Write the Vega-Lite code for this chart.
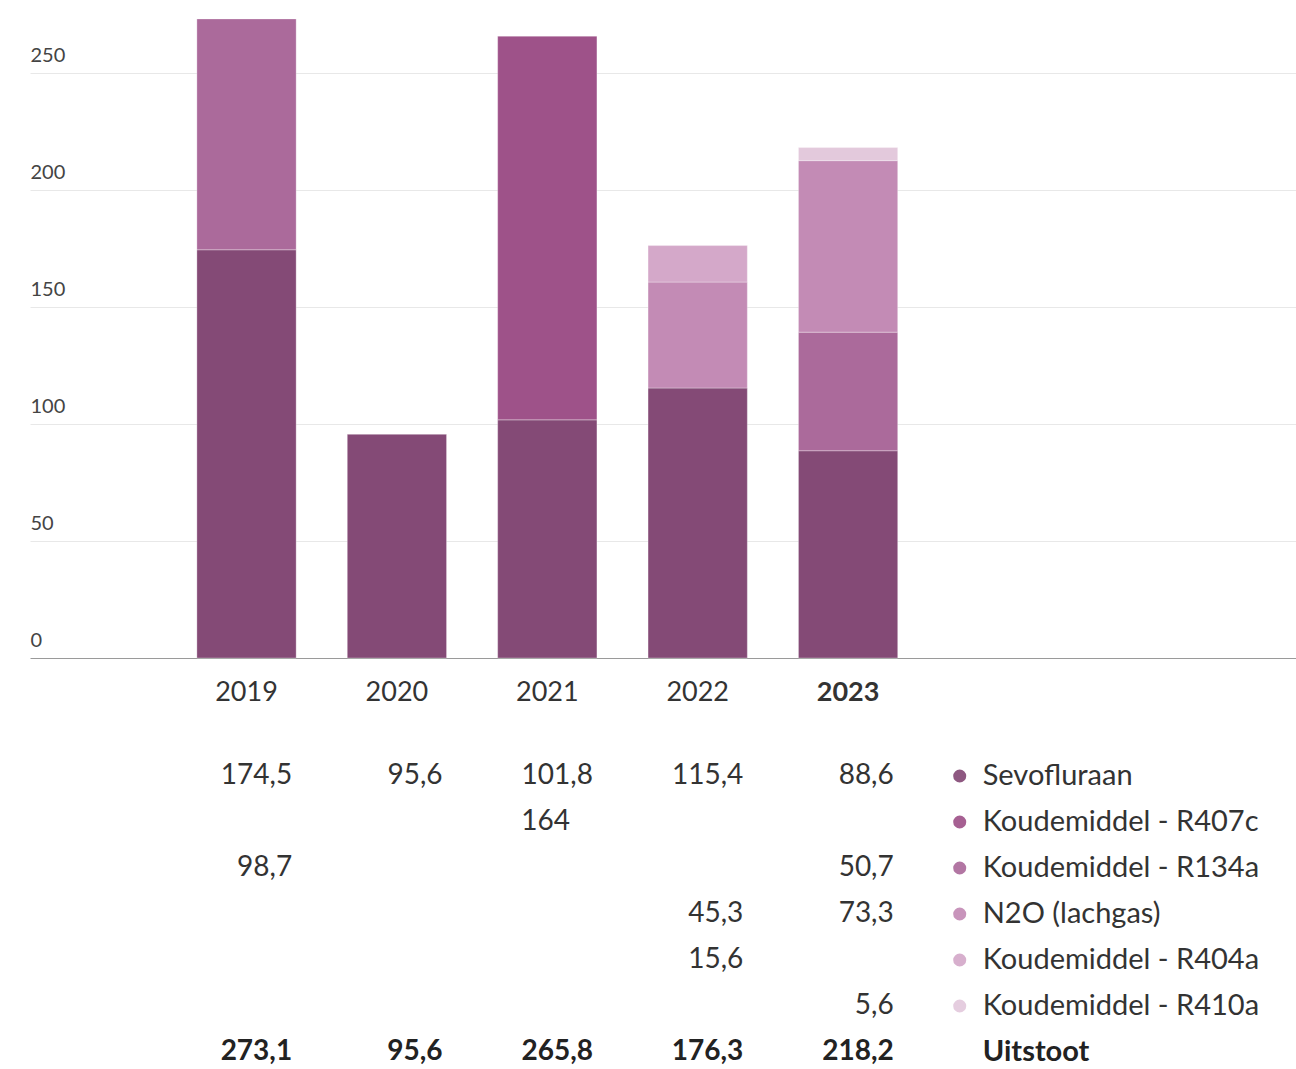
{
  "$schema": "https://vega.github.io/schema/vega-lite/v6.json",
  "width": 1266,
  "height": 655,
  "padding": {"left": 30, "top": 3, "right": 0, "bottom": 0},
  "background": "white",
  "config": {
    "view": {"stroke": null},
    "font": "Lato",
    "locale": {"number": {"decimal": ",", "thousands": ".", "grouping": [3], "currency": ["€", ""]}}
  },
  "datasets": {
    "emissions": [
      {"year": "2019", "gas": "Sevofluraan", "value": 174.5},
      {"year": "2019", "gas": "Koudemiddel - R134a", "value": 98.7},
      {"year": "2020", "gas": "Sevofluraan", "value": 95.6},
      {"year": "2021", "gas": "Sevofluraan", "value": 101.8},
      {"year": "2021", "gas": "Koudemiddel - R407c", "value": 164},
      {"year": "2022", "gas": "Sevofluraan", "value": 115.4},
      {"year": "2022", "gas": "N2O (lachgas)", "value": 45.3},
      {"year": "2022", "gas": "Koudemiddel - R404a", "value": 15.6},
      {"year": "2023", "gas": "Sevofluraan", "value": 88.6},
      {"year": "2023", "gas": "Koudemiddel - R134a", "value": 50.7},
      {"year": "2023", "gas": "N2O (lachgas)", "value": 73.3},
      {"year": "2023", "gas": "Koudemiddel - R410a", "value": 5.6}
    ],
    "totals": [
      {"year": "2019", "total": 273.1},
      {"year": "2020", "total": 95.6},
      {"year": "2021", "total": 265.8},
      {"year": "2022", "total": 176.3},
      {"year": "2023", "total": 218.2}
    ],
    "gases": [
      {"gas": "Sevofluraan"},
      {"gas": "Koudemiddel - R407c"},
      {"gas": "Koudemiddel - R134a"},
      {"gas": "N2O (lachgas)"},
      {"gas": "Koudemiddel - R404a"},
      {"gas": "Koudemiddel - R410a"}
    ]
  },
  "layer": [
    {
      "data": {"name": "emissions"},
      "transform": [
        {"calculate": "indexof(['Sevofluraan', 'Koudemiddel - R407c', 'Koudemiddel - R134a', 'N2O (lachgas)', 'Koudemiddel - R404a', 'Koudemiddel - R410a'], datum.gas)", "as": "stackOrder"}
      ],
      "mark": {"type": "bar", "stroke": "#ffffff", "strokeOpacity": 0.3, "strokeWidth": 1},
      "encoding": {
        "x": {
          "field": "year", "type": "nominal",
          "scale": {"domain": ["", "2019", "2020", "2021", "2022", "2023", " "], "paddingInner": 0.34, "paddingOuter": 0.879, "align": 0.0624, "round": false},
          "axis": {
            "title": null, "domain": false, "ticks": false, "tickSize": 0, "grid": false,
            "labelAngle": 0, "labelPadding": 34, "labelBaseline": "middle",
            "labelFontSize": 27, "labelColor": "#333", "labelFont": "Lato",
            "labelFontWeight": {"condition": {"test": "datum.value === '2023'", "value": "bold"}, "value": "normal"}
          }
        },
        "y": {
          "field": "value", "type": "quantitative", "stack": "zero",
          "scale": {"domain": [0, 280], "nice": false},
          "axis": {
            "title": null, "values": [0, 50, 100, 150, 200, 250], "domain": false, "ticks": false, "tickSize": 0,
            "labelAlign": "left", "labelBaseline": "alphabetic", "labelPadding": 0, "labelOffset": -12,
            "labelFontSize": 20, "labelColor": "#444", "labelFont": "Lato",
            "grid": true, "gridWidth": 1,
            "gridColor": {"condition": {"test": "datum.value === 0", "value": "#9a9a9a"}, "value": "#e8e8e8"}
          }
        },
        "order": {"field": "stackOrder", "type": "quantitative", "sort": "ascending"},
        "color": {
          "field": "gas", "type": "nominal",
          "scale": {
            "domain": ["Sevofluraan", "Koudemiddel - R407c", "Koudemiddel - R134a", "N2O (lachgas)", "Koudemiddel - R404a", "Koudemiddel - R410a"],
            "range": ["#844a76", "#9e5289", "#ab6a9b", "#c38bb5", "#d4a8c9", "#e3c9dc"]
          },
          "legend": null
        }
      }
    },
    {
      "layer": [
        {
          "data": {"name": "emissions"},
          "transform": [{"filter": "datum.value % 1 !== 0"}],
          "mark": {"type": "text", "align": "right", "baseline": "middle", "dx": -4, "dy": 2, "fontSize": 28, "color": "#333", "font": "Lato"},
          "encoding": {
            "x": {"field": "year", "type": "nominal", "bandPosition": 1},
            "y": {
              "field": "gas", "type": "nominal",
              "scale": {
                "domain": ["Sevofluraan", "Koudemiddel - R407c", "Koudemiddel - R134a", "N2O (lachgas)", "Koudemiddel - R404a", "Koudemiddel - R410a", "Uitstoot"],
                "range": [748, 1070], "paddingInner": 0, "paddingOuter": 0
              },
              "axis": null
            },
            "text": {"field": "value", "type": "quantitative", "format": ".1~f"}
          }
        },
        {
          "data": {"name": "emissions"},
          "transform": [{"filter": "datum.value % 1 === 0"}],
          "mark": {"type": "text", "align": "right", "baseline": "middle", "dx": -27, "dy": 2, "fontSize": 28, "color": "#333", "font": "Lato"},
          "encoding": {
            "x": {"field": "year", "type": "nominal", "bandPosition": 1},
            "y": {"field": "gas", "type": "nominal"},
            "text": {"field": "value", "type": "quantitative", "format": ".1~f"}
          }
        },
        {
          "data": {"name": "totals"},
          "mark": {"type": "text", "align": "right", "baseline": "middle", "dx": -4, "dy": 2, "fontSize": 28, "fontWeight": "bold", "color": "#222", "font": "Lato"},
          "encoding": {
            "x": {"field": "year", "type": "nominal", "bandPosition": 1},
            "y": {"datum": "Uitstoot", "type": "nominal"},
            "text": {"field": "total", "type": "quantitative", "format": ".1~f"}
          }
        },
        {
          "data": {"name": "gases"},
          "mark": {"type": "point", "shape": "circle", "filled": true, "size": 170, "opacity": 0.92, "xOffset": 62, "yOffset": 2},
          "encoding": {
            "x": {"datum": "2023", "type": "nominal", "bandPosition": 1},
            "y": {"field": "gas", "type": "nominal"},
            "color": {"field": "gas", "type": "nominal", "legend": null}
          }
        },
        {
          "data": {"name": "gases"},
          "mark": {"type": "text", "align": "left", "baseline": "middle", "dx": 85, "dy": 2, "fontSize": 29, "color": "#333", "font": "Lato"},
          "encoding": {
            "x": {"datum": "2023", "type": "nominal", "bandPosition": 1},
            "y": {"field": "gas", "type": "nominal"},
            "text": {"field": "gas", "type": "nominal"}
          }
        },
        {
          "data": {"values": [{"label": "Uitstoot"}]},
          "mark": {"type": "text", "align": "left", "baseline": "middle", "dx": 85, "dy": 2, "fontSize": 29, "fontWeight": "bold", "color": "#222", "font": "Lato"},
          "encoding": {
            "x": {"datum": "2023", "type": "nominal", "bandPosition": 1},
            "y": {"datum": "Uitstoot", "type": "nominal"},
            "text": {"field": "label", "type": "nominal"}
          }
        }
      ]
    }
  ],
  "resolve": {"scale": {"y": "independent"}, "axis": {"y": "independent"}}
}
